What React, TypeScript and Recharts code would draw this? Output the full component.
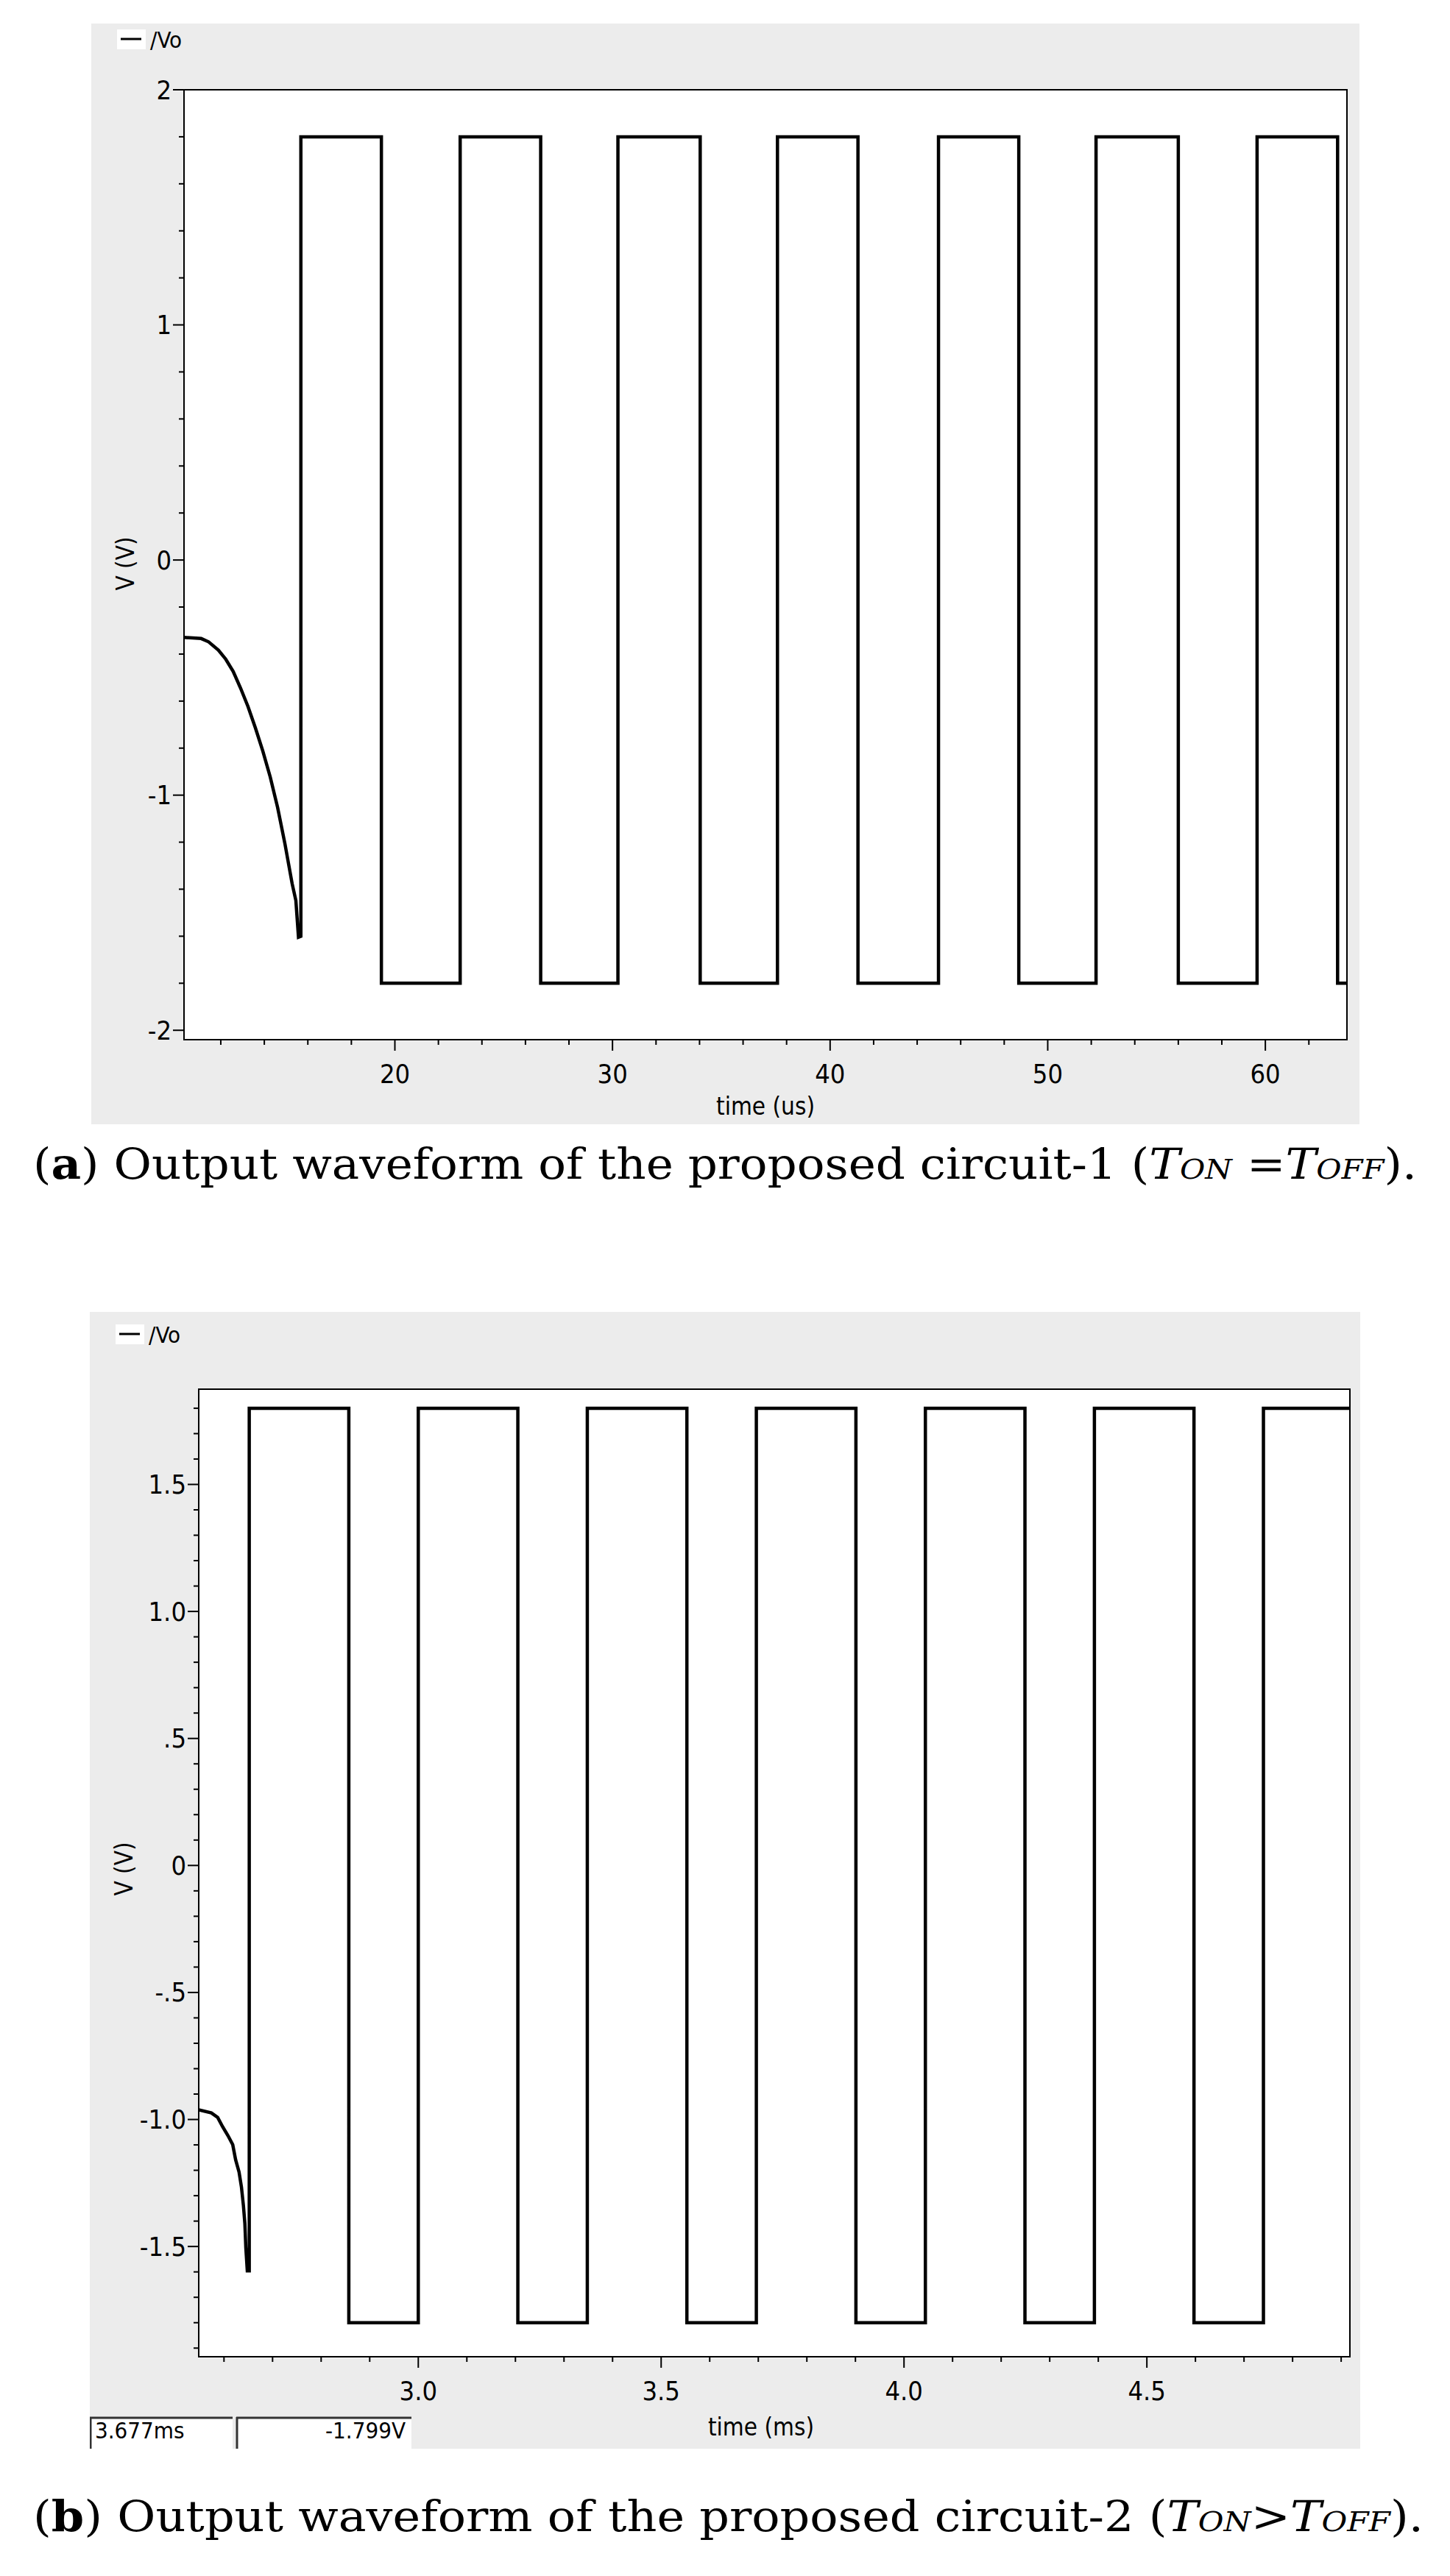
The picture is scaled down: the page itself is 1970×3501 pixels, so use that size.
import React from 'react';
import { LineChart, Line, XAxis, YAxis, CartesianGrid, ReferenceArea } from 'recharts';

// circuit-1: start-up transient (time in us, volts)
const startT1 = [10.31, 11.1, 11.44, 11.89, 12.23, 12.57, 12.91, 13.25, 13.59, 13.93, 14.27, 14.61, 14.95, 15.28, 15.45, 15.57, 15.68];
const startV1 = [-0.329, -0.334, -0.348, -0.383, -0.422, -0.474, -0.545, -0.623, -0.714, -0.812, -0.922, -1.052, -1.208, -1.377, -1.448, -1.604, -1.6];
// switching instants, alternating rise / fall, starting with a rise
const edges1 = [15.68, 19.38, 23.0, 26.7, 30.25, 34.03, 37.58, 41.28, 44.98, 48.67, 52.22, 56.0, 59.62, 63.32];
const xTicks1 = [20, 30, 40, 50, 60];
const xLabels1 = ['20', '30', '40', '50', '60'];
const yTicks1 = [2, 1, 0, -1, -2];
const yLabels1 = ['2', '1', '0', '-1', '-2'];

// circuit-2 (time in ms, volts)
const startT2 = [2.548, 2.574, 2.587, 2.597, 2.608, 2.618, 2.624, 2.631, 2.636, 2.64, 2.643, 2.645, 2.648, 2.652];
const startV2 = [-0.962, -0.974, -0.992, -1.028, -1.063, -1.099, -1.159, -1.207, -1.267, -1.339, -1.41, -1.506, -1.596, -1.596];
const edges2 = [2.652, 2.857, 3.0, 3.205, 3.348, 3.553, 3.696, 3.901, 4.044, 4.249, 4.392, 4.597, 4.74];
const xTicks2 = [3.0, 3.5, 4.0, 4.5];
const xLabels2 = ['3.0', '3.5', '4.0', '4.5'];
const yTicks2 = [1.5, 1.0, 0.5, 0, -0.5, -1.0, -1.5];
const yLabels2 = ['1.5', '1.0', '.5', '0', '-.5', '-1.0', '-1.5'];

const HIGH = 1.8;
const LOW = -1.8;

const FONT = '"DejaVu Sans Condensed", "DejaVu Sans", sans-serif';
const GRAY = '#ececec';

function buildWave(ts: number[], vs: number[], edges: number[], tEnd: number) {
  const pts = ts.map((t, i) => ({ t, v: vs[i] }));
  let level = vs[vs.length - 1];
  let up = true;
  edges.forEach((e) => {
    const next = up ? HIGH : LOW;
    pts.push({ t: e, v: level });
    pts.push({ t: e, v: next });
    level = next;
    up = !up;
  });
  pts.push({ t: tEnd, v: level });
  return pts;
}

function minorTicks(lo: number, hi: number, step: number) {
  const out: number[] = [];
  const a = Math.ceil(lo / step - 1e-9);
  const b = Math.floor(hi / step + 1e-9);
  for (let i = a; i <= b; i++) out.push(+(i * step).toFixed(6));
  return out;
}

const findMajor = (majors: number[], v: number) => majors.findIndex((m) => Math.abs(m - v) < 1e-6);

interface WaveProps {
  data: { t: number; v: number }[];
  xDomain: [number, number];
  yDomain: [number, number];
  xStep: number;
  yStep: number;
  xMajors: number[];
  xNames: string[];
  yMajors: number[];
  yNames: string[];
  panel: { left: number; top: number; width: number; height: number };
  plot: { left: number; top: number; right: number; bottom: number };
  xTitle: string;
  xTitlePos: [number, number];
  yTitlePos: [number, number];
  legendTop: number;
  children?: React.ReactNode;
}

function WaveChart(p: WaveProps) {
  const { panel, plot } = p;
  const xt = minorTicks(p.xDomain[0], p.xDomain[1], p.xStep);
  const yt = minorTicks(p.yDomain[0], p.yDomain[1], p.yStep);

  const xTick = (props: any) => {
    const { x, y, payload } = props;
    const k = findMajor(p.xMajors, payload.value);
    const len = k >= 0 ? 15 : 7;
    return (
      <g>
        <line x1={x} x2={x} y1={y} y2={y + len} stroke="#000" strokeWidth={2} />
        {k >= 0 && (
          <text x={x} y={y + 46} textAnchor="middle" dominantBaseline="central" fontSize={36} fontFamily={FONT} fill="#000">
            {p.xNames[k]}
          </text>
        )}
      </g>
    );
  };

  const yTick = (props: any) => {
    const { x, y, payload } = props;
    const k = findMajor(p.yMajors, payload.value);
    const len = k >= 0 ? 15 : 7;
    return (
      <g>
        <line x1={x - len} x2={x} y1={y} y2={y} stroke="#000" strokeWidth={2} />
        {k >= 0 && (
          <text x={x - len - 2} y={y} textAnchor="end" dominantBaseline="central" fontSize={36} fontFamily={FONT} fill="#000">
            {p.yNames[k]}
          </text>
        )}
      </g>
    );
  };

  return (
    <div style={{ position: 'absolute', left: panel.left, top: panel.top, width: panel.width, height: panel.height, background: GRAY, overflow: 'hidden' }}>
      <LineChart
        width={panel.width}
        height={panel.height}
        data={p.data}
        margin={{ top: plot.top - panel.top, right: panel.left + panel.width - plot.right, left: 0, bottom: 0 }}
      >
        <CartesianGrid horizontal={false} vertical={false} fill="#fff" stroke="none" />
        <XAxis
          dataKey="t"
          type="number"
          domain={p.xDomain}
          allowDataOverflow
          ticks={xt}
          interval={0}
          tick={xTick}
          tickLine={false}
          tickSize={0}
          tickMargin={0}
          height={panel.top + panel.height - plot.bottom}
          axisLine={{ stroke: '#000', strokeWidth: 2 }}
        />
        <YAxis
          type="number"
          domain={p.yDomain}
          allowDataOverflow
          ticks={yt}
          interval={0}
          tick={yTick}
          tickLine={false}
          tickSize={0}
          tickMargin={0}
          width={plot.left - panel.left}
          axisLine={{ stroke: '#000', strokeWidth: 2 }}
        />
        <ReferenceArea x1={p.xDomain[0]} x2={p.xDomain[1]} y1={p.yDomain[0]} y2={p.yDomain[1]} fill="none" stroke="#000" strokeWidth={2} />
        <Line dataKey="v" type="linear" dot={false} stroke="#000" strokeWidth={4.5} isAnimationActive={false} />
      </LineChart>
      <svg width={panel.width} height={panel.height} style={{ position: 'absolute', left: 0, top: 0, pointerEvents: 'none' }}>
        <rect x={35} y={p.legendTop} width={39} height={27} fill="#fff" />
        <line x1={40} x2={68} y1={p.legendTop + 13} y2={p.legendTop + 13} stroke="#000" strokeWidth={3} />
        <text x={80} y={p.legendTop + 14} dominantBaseline="central" fontSize={31} fontFamily={FONT} fill="#000">/Vo</text>
        <text
          x={p.yTitlePos[0]}
          y={p.yTitlePos[1]}
          textAnchor="middle"
          dominantBaseline="central"
          fontSize={33}
          fontFamily={FONT}
          fill="#000"
          transform={`rotate(-90 ${p.yTitlePos[0]} ${p.yTitlePos[1]})`}
        >
          V (V)
        </text>
        <text x={p.xTitlePos[0]} y={p.xTitlePos[1]} textAnchor="middle" dominantBaseline="central" fontSize={33} fontFamily={FONT} fill="#000">
          {p.xTitle}
        </text>
        {p.children}
      </svg>
    </div>
  );
}

function Caption({ top, letter, rest, rel, width }: { top: number; letter: string; rest: string; rel: string; width: number }) {
  return (
    <svg width={1970} height={110} style={{ position: 'absolute', left: 0, top }}>
      <text x={45} y={80} fontSize={57} fontFamily='"DejaVu Serif", "Liberation Serif", serif' fill="#000" textLength={width} lengthAdjust="spacingAndGlyphs">
        <tspan>(</tspan>
        <tspan fontWeight="bold">{letter}</tspan>
        <tspan>{`) Output waveform of the proposed ${rest} (`}</tspan>
        <tspan fontStyle="italic">T</tspan>
        <tspan fontStyle="italic" fontSize={38}>ON</tspan>
        <tspan>{rel}</tspan>
        <tspan fontStyle="italic">T</tspan>
        <tspan fontStyle="italic" fontSize={38}>OFF</tspan>
        <tspan>).</tspan>
      </text>
    </svg>
  );
}

export default function App() {
  const data1 = buildWave(startT1, startV1, edges1, 63.75);
  const data2 = buildWave(startT2, startV2, edges2, 4.918);

  return (
    <div style={{ position: 'absolute', left: 0, top: 0, width: 1970, height: 3501, background: '#fff' }}>
      <WaveChart
        data={data1}
        xDomain={[10.31, 63.75]}
        yDomain={[-2.04, 2.0]}
        xStep={2}
        yStep={0.2}
        xMajors={xTicks1}
        xNames={xLabels1}
        yMajors={yTicks1}
        yNames={yLabels1}
        panel={{ left: 124, top: 32, width: 1723, height: 1496 }}
        plot={{ left: 250, top: 122, right: 1830, bottom: 1413 }}
        xTitle="time (us)"
        xTitlePos={[916, 1471]}
        yTitlePos={[46, 734]}
        legendTop={8}
      />
      <Caption top={1522} letter="a" rest="circuit-1" rel=" =" width={1880} />

      <WaveChart
        data={data2}
        xDomain={[2.548, 4.918]}
        yDomain={[-1.934, 1.875]}
        xStep={0.1}
        yStep={0.1}
        xMajors={xTicks2}
        xNames={xLabels2}
        yMajors={yTicks2}
        yNames={yLabels2}
        panel={{ left: 122, top: 1783, width: 1726, height: 1545 }}
        plot={{ left: 270, top: 1888, right: 1834, bottom: 3203 }}
        xTitle="time (ms)"
        xTitlePos={[912, 1515]}
        yTitlePos={[46, 757]}
        legendTop={17}
      >
        <rect x={0} y={1502} width={194} height={45} fill="#fff" />
        <line x1={0} x2={194} y1={1503} y2={1503} stroke="#333" strokeWidth={3} />
        <line x1={1} x2={1} y1={1502} y2={1545} stroke="#333" strokeWidth={3} />
        <text x={7} y={1531} fontSize={31} fontFamily={FONT} fill="#000">3.677ms</text>
        <rect x={199} y={1502} width={238} height={45} fill="#fff" />
        <line x1={199} x2={437} y1={1503} y2={1503} stroke="#333" strokeWidth={3} />
        <line x1={200} x2={200} y1={1502} y2={1545} stroke="#333" strokeWidth={3} />
        <text x={429} y={1531} textAnchor="end" fontSize={31} fontFamily={FONT} fill="#000">-1.799V</text>
      </WaveChart>
      <Caption top={3360} letter="b" rest="circuit-2" rel=">" width={1889} />
    </div>
  );
}
